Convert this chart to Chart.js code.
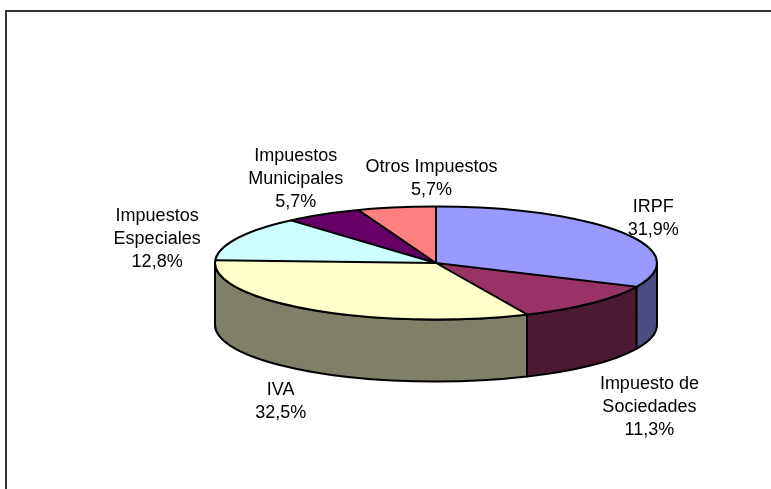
<!DOCTYPE html>
<html><head><meta charset="utf-8">
<script src="https://cdn.jsdelivr.net/npm/chart.js@4"></script>
<style>html,body{margin:0;padding:0;background:#fff;} canvas{display:block;}</style>
</head><body>
<canvas id="c" width="771" height="489"></canvas>
<script>
const categories = ['IRPF', 'Impuesto de Sociedades', 'IVA', 'Impuestos Especiales', 'Impuestos Municipales', 'Otros Impuestos'];
const labelLines = [['IRPF'], ['Impuesto de', 'Sociedades'], ['IVA'], ['Impuestos', 'Especiales'], ['Impuestos', 'Municipales'], ['Otros Impuestos']];
const shares = [31.9, 11.3, 32.5, 12.8, 5.7, 5.7];
const topColors = ['#9999FF', '#993366', '#FFFFCC', '#CCFFFF', '#660066', '#FF8080'];
const sideColors = ['#4C4C80', '#4C1933', '#808066', '#668080', '#330033', '#804040'];
// label nudges (px) from the slice rim at its mid-angle
const labelNudge = [[31, -21], [58, 24], [-31, 23], [-80, -17], [-27, -53], [35, -35]];
const TILT = 56.5 / 221, DEPTH = 62, LINE_H = 23;

const fmt = v => v.toFixed(1).replace('.', ',') + '%';

const pie3d = {
  id: 'pie3d',
  beforeDraw(chart) {
    const ctx = chart.ctx;
    ctx.save();
    ctx.fillStyle = '#fff';
    ctx.fillRect(0, 0, chart.width, chart.height);
    ctx.strokeStyle = '#333';
    ctx.lineWidth = 2;
    ctx.strokeRect(6, 11, chart.width + 20, chart.height + 20);
    ctx.restore();
  },
  beforeDatasetsDraw(chart) {
    const ctx = chart.ctx;
    const arcs = chart.getDatasetMeta(0).data;
    const cx = arcs[0].x, cy = arcs[0].y, R = arcs[0].outerRadius, ry = R * TILT;
    const TAU = Math.PI * 2;
    ctx.save();
    ctx.lineWidth = 2;
    ctx.strokeStyle = '#000';
    ctx.lineJoin = 'round';
    // visible side wall (front half)
    arcs.forEach((a, i) => {
      for (const shift of [-TAU, 0, TAU]) {
        const s = Math.max(a.startAngle + shift, 0), e = Math.min(a.endAngle + shift, Math.PI);
        if (e - s > 1e-6) {
          ctx.beginPath();
          ctx.ellipse(cx, cy, R, ry, 0, s, e);
          ctx.ellipse(cx, cy + DEPTH, R, ry, 0, e, s, true);
          ctx.closePath();
          ctx.fillStyle = sideColors[i];
          ctx.fill();
          ctx.stroke();
        }
      }
    });
    // top face drawn by Chart.js arcs, squashed into perspective
    ctx.save();
    ctx.translate(cx, cy);
    ctx.scale(1, TILT);
    ctx.translate(-cx, -cy);
    arcs.forEach(a => a.draw(ctx));
    ctx.restore();
    // outlines of the top face
    ctx.beginPath();
    arcs.forEach(a => {
      ctx.moveTo(cx, cy);
      ctx.lineTo(cx + R * Math.cos(a.startAngle), cy + ry * Math.sin(a.startAngle));
    });
    ctx.stroke();
    ctx.beginPath();
    ctx.ellipse(cx, cy, R, ry, 0, 0, TAU);
    ctx.stroke();
    // labels
    ctx.font = '18px "Liberation Sans", Arial, sans-serif';
    ctx.fillStyle = '#000';
    ctx.textAlign = 'center';
    ctx.textBaseline = 'alphabetic';
    arcs.forEach((a, i) => {
      const mid = (a.startAngle + a.endAngle) / 2;
      const sn = Math.sin(mid);
      const px = cx + R * Math.cos(mid);
      const py = cy + ry * sn + (sn > 0 ? DEPTH : 0);
      const lines = [...labelLines[i], fmt(shares[i])];
      const x = px + labelNudge[i][0], y0 = py + labelNudge[i][1];
      lines.forEach((t, j) => ctx.fillText(t, x, y0 + j * LINE_H));
    });
    ctx.restore();
    return false;
  }
};

new Chart(document.getElementById('c'), {
  type: 'pie',
  data: {
    labels: categories,
    datasets: [{ data: shares, backgroundColor: topColors, borderWidth: 0 }]
  },
  options: {
    responsive: false,
    animation: false,
    layout: { padding: { left: 215, right: 114, top: 42, bottom: 5 } },
    plugins: { legend: { display: false }, tooltip: { enabled: false } }
  },
  plugins: [pie3d]
});
</script>
</body></html>
